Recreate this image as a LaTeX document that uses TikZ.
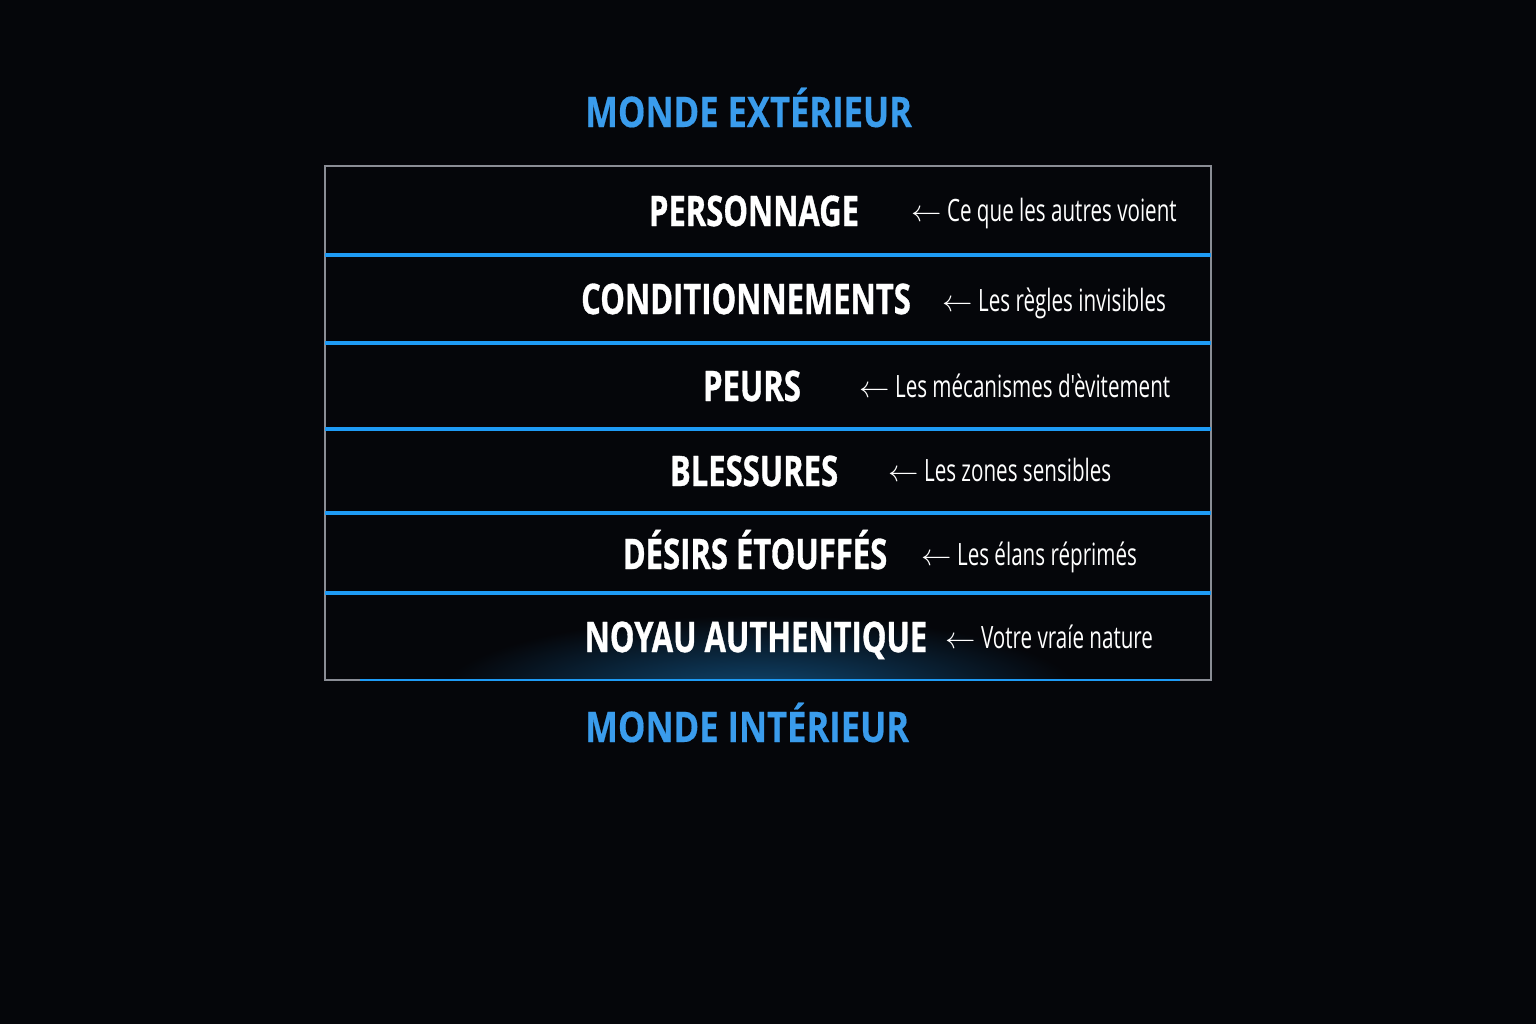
\documentclass[tikz,border=0pt]{standalone}
\usepackage{fontspec}
\setmainfont{Open Sans}
\newfontfamily\headfont[FakeStretch=0.735, FakeBold=0.8]{Open Sans Bold}
\newfontfamily\titlefont[FakeStretch=0.82, FakeBold=0.4]{Open Sans Bold}
\newfontfamily\notefont[FakeStretch=0.67]{Open Sans}
\usetikzlibrary{positioning}

\definecolor{bgdark}{HTML}{05060A}
\definecolor{glowblue}{HTML}{1E9BF5}
\definecolor{titleblue}{HTML}{3A9CEC}
\definecolor{framegray}{HTML}{8A8D95}

\begin{document}
\begin{tikzpicture}[x=0.2mm, y=-0.2mm,
    layer/.style={font=\headfont\fontsize{24}{28}\selectfont, text=white, inner sep=0pt, text height=17.1pt, text depth=0pt},
    note/.style={font=\notefont\fontsize{17.5}{20}\selectfont, text=white, inner sep=0pt, text height=12.5pt, text depth=0pt, anchor=west},
    world/.style={font=\titlefont\fontsize{24}{28}\selectfont, text=titleblue, inner sep=0pt, anchor=base west},
    divider/.style={draw=glowblue, line width=1.9pt}
]
% Background
\fill[bgdark] (0,0) rectangle (1536,1024);
\useasboundingbox (0,0) rectangle (1536,1024);

% Glow under the core
\begin{scope}
\clip (325,595) rectangle (1211,680);
\shade[inner color=glowblue!45!bgdark, outer color=bgdark] (760,695) ellipse (320 and 80);
\end{scope}

% Frame and dividers
\node[draw=framegray, line width=1pt, minimum width=886*0.2mm, minimum height=514*0.2mm, inner sep=0pt] (frame) at (768,423) {};
\foreach \y in {255,343,429,513,593}
  \draw[divider] (325,\y) -- (1211,\y);
\draw[divider, line width=1.4pt] (360,680) -- (1180,680);

% Worlds
\node[world] (outer) at (585,127) {MONDE EXTÉRIEUR};
\node[world] (inner) at (585,742) {MONDE INTÉRIEUR};

% Layers
\node[layer] (l1) at (754,211) {PERSONNAGE};
\node[layer] (l2) at (746,299) {CONDITIONNEMENTS};
\node[layer] (l3) at (752,386) {PEURS};
\node[layer] (l4) at (754,471) {BLESSURES};
\node[layer] (l5) at (755,554) {DÉSIRS ÉTOUFFÉS};
\node[layer] (l6) at (756,637) {NOYAU AUTHENTIQUE};

% Notes
\node[note] (n1) at (911,211) {$\leftarrow$ Ce que les autres voient};
\node[note] (n2) at (942,301) {$\leftarrow$ Les règles invisibles};
\node[note] (n3) at (859,387) {$\leftarrow$ Les mécanismes d'èvitement};
\node[note] (n4) at (888,471) {$\leftarrow$ Les zones sensibles};
\node[note] (n5) at (921,555) {$\leftarrow$ Les élans réprimés};
\node[note] (n6) at (945,638) {$\leftarrow$ Votre vraíe nature};

\end{tikzpicture}
\end{document}
